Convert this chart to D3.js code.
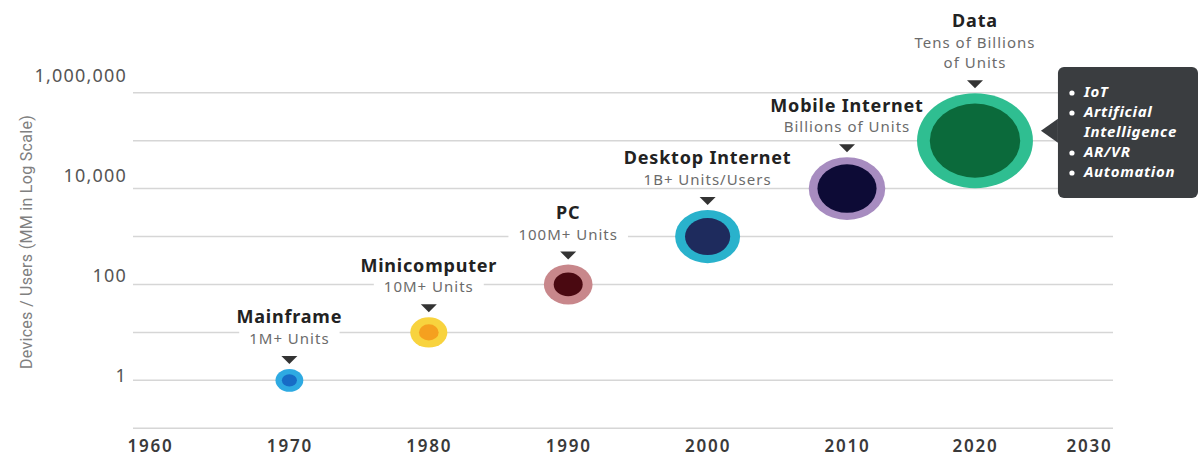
<!DOCTYPE html>
<html>
<head>
<meta charset="utf-8">
<script src="https://cdn.jsdelivr.net/npm/d3@7"></script>
<style>
  html, body { margin: 0; padding: 0; background: #fff; }
  svg { display: block; font-family: 'Noto Sans', sans-serif; }
</style>
</head>
<body>
<svg id="chart"></svg>
<script>
// data
let years = [1970, 1980, 1990, 2000, 2010, 2020]
let units = [1, 10, 100, 1000, 10000, 100000]   // devices / users, MM
let eras = ['Mainframe', 'Minicomputer', 'PC', 'Desktop Internet', 'Mobile Internet', 'Data']
let notes = [['1M+ Units'], ['10M+ Units'], ['100M+ Units'], ['1B+ Units/Users'],
             ['Billions of Units'], ['Tens of Billions', 'of Units']]
let ringSize = [24, 32, 42, 56, 66, 100]   // relative bubble size, Data = 100
let coreSize = [13, 17, 25, 39, 51, 78]
let xTicks = [1960, 1970, 1980, 1990, 2000, 2010, 2020, 2030]
let yTicks = [1, 100, 10000, 1000000]
let gridLevels = [0.1, 1, 10, 100, 1000, 10000, 100000, 1000000]
let dataUses = [['IoT'], ['Artificial', 'Intelligence'], ['AR/VR'], ['Automation']]

// colours
let ringColors = ['#2eaae2', '#f8d33e', '#c8878b', '#29b2cc', '#a78cc0', '#2fbe91']
let coreColors = ['#176cc6', '#f5a01f', '#4a0911', '#1e2b5d', '#0d0b36', '#0b6a3b']

// canvas
let width = 1201
let height = 457
let stretch = 1.22   // bubbles are a little wider than tall

let svg = d3.select('#chart')
    .attr('width', width)
    .attr('height', height)

// scales
let xScale = d3.scaleLinear()
    .domain([1960, 2010, 2020, 2030])
    .range([150, 847, 975, 1089])

let yScale = d3.scaleLog()
    .domain([0.1, 1000000])
    .range([428.3, 92.7])

// tick labels sit a bit off their lines in the original
let labelScale = d3.scaleLog()
    .domain([1, 1000000])
    .range([375.7, 75.7])

let rScale = d3.scaleLinear()
    .domain([0, 100])
    .range([0, 47.5])

// gridlines
svg.append('g')
    .selectAll('line')
    .data(gridLevels)
    .enter()
    .append('line')
    .attr('x1', 133)
    .attr('x2', 1113)
    .attr('y1', (d) => yScale(d))
    .attr('y2', (d) => yScale(d))
    .attr('stroke', '#d6d6d6')
    .attr('stroke-width', 1.5)

// y axis
let yAxis = svg.append('g')
    .attr('transform', 'translate(127,0)')
    .call(d3.axisLeft(labelScale).tickValues(yTicks).tickFormat(d3.format(',')).tickSize(0).tickPadding(0))
yAxis.select('.domain').remove()
yAxis.selectAll('text')
    .attr('font-family', "'Noto Sans', sans-serif")
    .attr('font-size', 18)
    .attr('fill', '#555')
    .style('letter-spacing', '1.2px')

// x axis
let xAxis = svg.append('g')
    .attr('transform', 'translate(0,' + yScale(0.1) + ')')
    .call(d3.axisBottom(xScale).tickValues(xTicks).tickFormat(d3.format('d')).tickSize(0).tickPadding(12))
xAxis.select('.domain').remove()
xAxis.selectAll('text')
    .attr('font-family', "'Noto Sans', sans-serif")
    .attr('font-size', 17)
    .attr('font-weight', 600)
    .attr('fill', '#3a3a3a')
    .style('letter-spacing', '1.8px')

// y title
svg.append('text')
    .attr('transform', 'translate(26,242) rotate(-90)')
    .attr('text-anchor', 'middle')
    .attr('dominant-baseline', 'central')
    .attr('font-family', 'Roboto, sans-serif')
    .attr('font-size', 16)
    .attr('fill', '#808080')
    .style('letter-spacing', '0.3px')
    .text('Devices / Users (MM in Log Scale)')

// eras
let eraData = years.map((year, i) => ({ year: year, value: units[i], i: i }))

let era = svg.append('g')
    .selectAll('g')
    .data(eraData)
    .enter()
    .append('g')

era.append('ellipse')
    .attr('cx', (d) => xScale(d.year))
    .attr('cy', (d) => yScale(d.value))
    .attr('rx', (d) => rScale(ringSize[d.i]) * stretch)
    .attr('ry', (d) => rScale(ringSize[d.i]))
    .attr('fill', (d) => ringColors[d.i])

era.append('ellipse')
    .attr('cx', (d) => xScale(d.year))
    .attr('cy', (d) => yScale(d.value))
    .attr('rx', (d) => rScale(coreSize[d.i]) * stretch)
    .attr('ry', (d) => rScale(coreSize[d.i]))
    .attr('fill', (d) => coreColors[d.i])

// little pointer above each bubble
let tipY = (d) => yScale(d.value) - rScale(ringSize[d.i]) - 5

era.append('path')
    .attr('d', (d) => {
        let x = xScale(d.year)
        let y = tipY(d)
        return 'M' + (x - 8) + ',' + (y - 8) + 'L' + (x + 8) + ',' + (y - 8) + 'L' + x + ',' + y + 'Z'
    })
    .attr('fill', '#333')

era.each(function (d) {
    let g = d3.select(this)
    let x = xScale(d.year)
    let lines = notes[d.i]
    let lastY = tipY(d) - 8 - 17
    let firstY = lastY - 20 * (lines.length - 1)

    lines.forEach((line, k) => {
        let t = g.append('text')
            .attr('x', x)
            .attr('y', firstY + 20 * k)
            .attr('dy', '0.35em')
            .attr('text-anchor', 'middle')
            .attr('font-size', 15)
            .attr('fill', '#6b6b6b')
            .style('letter-spacing', '1px')
            .text(line)
        // white box so the gridline breaks around the note
        let box = t.node().getBBox()
        g.insert('rect', 'text')
            .attr('x', box.x - 10)
            .attr('y', box.y + 2)
            .attr('width', box.width + 20)
            .attr('height', box.height - 4)
            .attr('fill', '#fff')
    })

    g.append('text')
        .attr('x', x)
        .attr('y', firstY - 22)
        .attr('dy', '0.35em')
        .attr('text-anchor', 'middle')
        .attr('font-size', 18)
        .attr('font-weight', 700)
        .attr('fill', '#222')
        .style('letter-spacing', '0.8px')
        .text(eras[d.i])
})

// callout next to the Data bubble
let last = eraData[eraData.length - 1]
let pointX = xScale(last.year) + rScale(ringSize[last.i]) * stretch + 8
let pointY = yScale(last.value) - 10
let boxX = pointX + 17

let callout = svg.append('g')
callout.append('rect')
    .attr('x', boxX)
    .attr('y', 67)
    .attr('width', 1198 - boxX)
    .attr('height', 131)
    .attr('rx', 6)
    .attr('fill', '#3a3d40')
callout.append('path')
    .attr('d', 'M' + boxX + ',' + (pointY - 12) + 'L' + pointX + ',' + pointY + 'L' + boxX + ',' + (pointY + 12) + 'Z')
    .attr('fill', '#3a3d40')

let row = 0
dataUses.forEach((item) => {
    item.forEach((line, k) => {
        let y = 92 + 20 * row
        if (k === 0) {
            callout.append('circle')
                .attr('cx', boxX + 14)
                .attr('cy', y + 1)
                .attr('r', 2.6)
                .attr('fill', '#fff')
        }
        callout.append('text')
            .attr('x', boxX + 26)
            .attr('y', y)
            .attr('dy', '0.35em')
            .attr('font-size', 15)
            .attr('font-weight', 700)
            .attr('font-style', 'italic')
            .attr('fill', '#fff')
            .style('letter-spacing', '0.7px')
            .text(line)
        row++
    })
})
</script>
</body>
</html>
